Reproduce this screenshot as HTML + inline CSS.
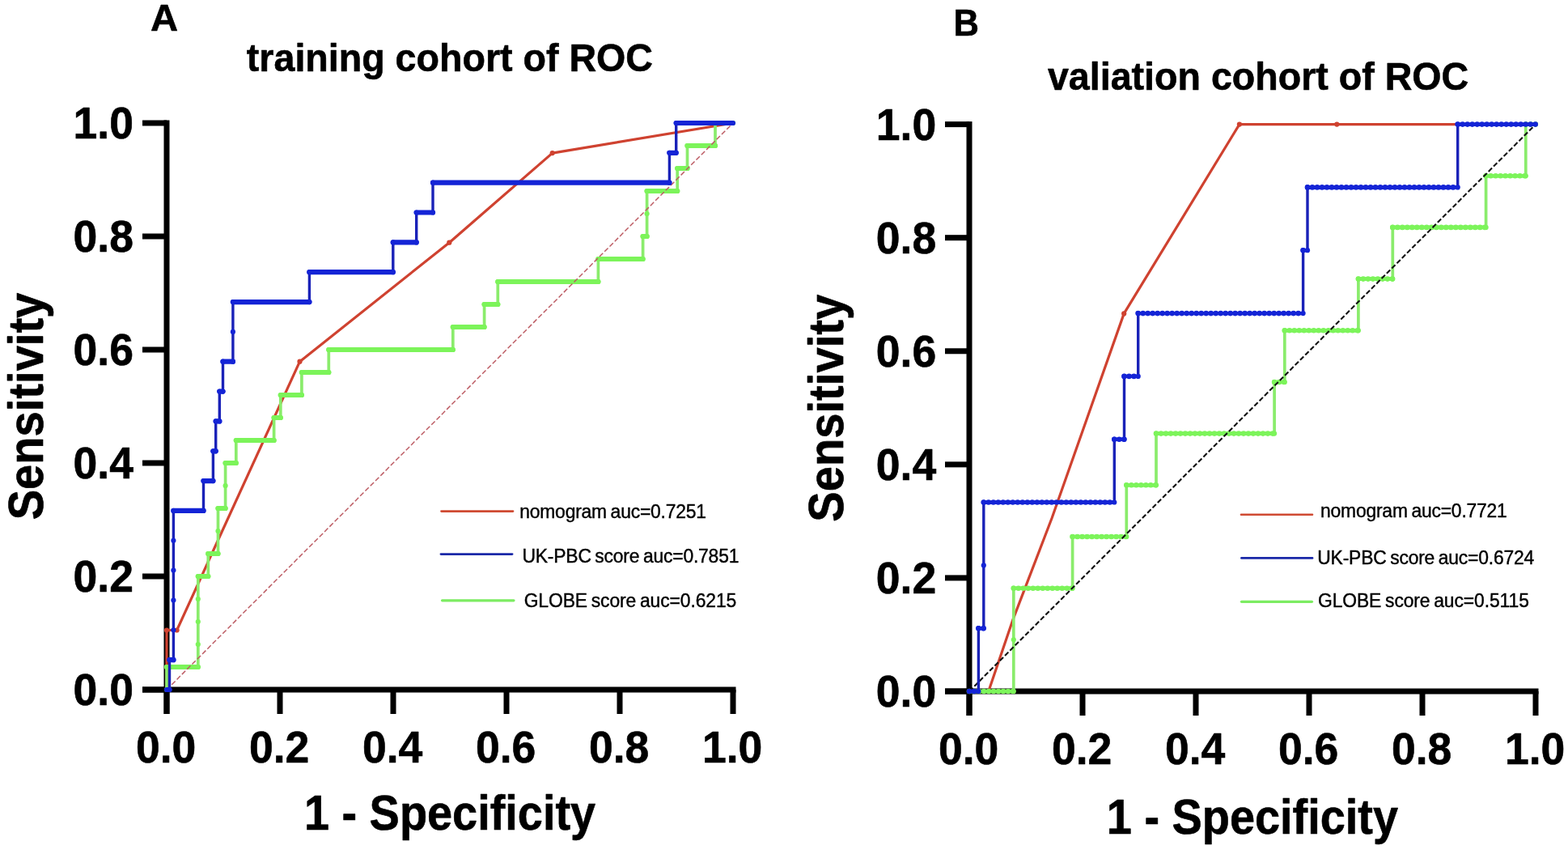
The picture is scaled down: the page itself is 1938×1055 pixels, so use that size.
<!DOCTYPE html>
<html lang="en">
<head>
<meta charset="utf-8">
<title>ROC curves: training and validation cohorts</title>
<style>
html,body{margin:0;padding:0;background:#fff;}
body{width:1938px;height:1055px;overflow:hidden;font-family:"Liberation Sans",Arial,Helvetica,sans-serif;}
svg{display:block;position:absolute;left:0;top:0;}
</style>
</head>
<body>
<svg role="img" aria-label="ROC curves for the training and validation cohorts" width="1938" height="1055" viewBox="0 0 1938 1055" font-family="'Liberation Sans', Arial, Helvetica, sans-serif" fill="#000">
<rect width="1938" height="1055" fill="#fff"/>
<g id="fig">
<g font-weight="700" stroke="#000" stroke-width="0.6" stroke-linejoin="round">
<text transform="translate(186.0 38.3) scale(1.0 0.965)" font-size="47.3">A</text>
<text transform="translate(1178.4 43.9) scale(1.0 1.05)" font-size="43.5">B</text>
<text transform="translate(555.9 88.4) scale(1.0 1.04)" font-size="46.6" text-anchor="middle">training cohort of ROC</text>
<text transform="translate(1555.1 111.1) scale(1.0 1.04)" font-size="46.6" text-anchor="middle">valiation cohort of ROC</text>
<text transform="translate(556.0 1025.3) scale(1.0 1.08)" font-size="55.9" text-anchor="middle">1 - Specificity</text>
<text transform="translate(1547.9 1029.8) scale(1.0 1.08)" font-size="55.9" text-anchor="middle">1 - Specificity</text>
<text transform="translate(52.9 502.0) rotate(-90) scale(1.0 1.1)" font-size="56.1" text-anchor="middle">Sensitivity</text>
<text transform="translate(1042.0 504.3) rotate(-90) scale(1.0 1.1)" font-size="56.2" text-anchor="middle">Sensitivity</text>
</g>
<g fill="#000"><rect x="202.5" y="148.5" width="7" height="733.5"/><rect x="176" y="848.5" width="733.5" height="7"/><rect x="176" y="848.5" width="30" height="7"/><rect x="202.5" y="852" width="7" height="30"/><rect x="176" y="708.5" width="30" height="7"/><rect x="342.5" y="852" width="7" height="30"/><rect x="176" y="568.5" width="30" height="7"/><rect x="482.5" y="852" width="7" height="30"/><rect x="176" y="428.5" width="30" height="7"/><rect x="622.5" y="852" width="7" height="30"/><rect x="176" y="288.5" width="30" height="7"/><rect x="762.5" y="852" width="7" height="30"/><rect x="176" y="148.5" width="30" height="7"/><rect x="902.5" y="852" width="7" height="30"/></g>
<g fill="#000"><rect x="1194.5" y="150.1" width="7" height="733.9"/><rect x="1168" y="850.5" width="733.5" height="7"/><rect x="1168" y="850.5" width="30" height="7"/><rect x="1194.5" y="854" width="7" height="30"/><rect x="1168" y="710.42" width="30" height="7"/><rect x="1334.5" y="854" width="7" height="30"/><rect x="1168" y="570.34" width="30" height="7"/><rect x="1474.5" y="854" width="7" height="30"/><rect x="1168" y="430.26" width="30" height="7"/><rect x="1614.5" y="854" width="7" height="30"/><rect x="1168" y="290.18" width="30" height="7"/><rect x="1754.5" y="854" width="7" height="30"/><rect x="1168" y="150.1" width="30" height="7"/><rect x="1894.5" y="854" width="7" height="30"/></g>
<g font-weight="700" stroke="#000" stroke-width="0.6" stroke-linejoin="round"><text transform="translate(164.9 871.2) scale(1.0 1.05)" font-size="53.5" text-anchor="end">0.0</text><text transform="translate(205.1 942.3) scale(1.0 1.05)" font-size="53.5" text-anchor="middle">0.0</text><text transform="translate(164.9 731.2) scale(1.0 1.05)" font-size="53.5" text-anchor="end">0.2</text><text transform="translate(345.1 942.3) scale(1.0 1.05)" font-size="53.5" text-anchor="middle">0.2</text><text transform="translate(164.9 591.2) scale(1.0 1.05)" font-size="53.5" text-anchor="end">0.4</text><text transform="translate(485.1 942.3) scale(1.0 1.05)" font-size="53.5" text-anchor="middle">0.4</text><text transform="translate(164.9 451.2) scale(1.0 1.05)" font-size="53.5" text-anchor="end">0.6</text><text transform="translate(625.1 942.3) scale(1.0 1.05)" font-size="53.5" text-anchor="middle">0.6</text><text transform="translate(164.9 311.2) scale(1.0 1.05)" font-size="53.5" text-anchor="end">0.8</text><text transform="translate(765.1 942.3) scale(1.0 1.05)" font-size="53.5" text-anchor="middle">0.8</text><text transform="translate(164.9 171.2) scale(1.0 1.05)" font-size="53.5" text-anchor="end">1.0</text><text transform="translate(905.1 942.3) scale(1.0 1.05)" font-size="53.5" text-anchor="middle">1.0</text></g>
<g font-weight="700" stroke="#000" stroke-width="0.6" stroke-linejoin="round"><text transform="translate(1157.2 873.2) scale(1.0 1.05)" font-size="53.5" text-anchor="end">0.0</text><text transform="translate(1197.1 943.6) scale(1.0 1.05)" font-size="53.5" text-anchor="middle">0.0</text><text transform="translate(1157.2 733.12) scale(1.0 1.05)" font-size="53.5" text-anchor="end">0.2</text><text transform="translate(1337.1 943.6) scale(1.0 1.05)" font-size="53.5" text-anchor="middle">0.2</text><text transform="translate(1157.2 593.04) scale(1.0 1.05)" font-size="53.5" text-anchor="end">0.4</text><text transform="translate(1477.1 943.6) scale(1.0 1.05)" font-size="53.5" text-anchor="middle">0.4</text><text transform="translate(1157.2 452.96) scale(1.0 1.05)" font-size="53.5" text-anchor="end">0.6</text><text transform="translate(1617.1 943.6) scale(1.0 1.05)" font-size="53.5" text-anchor="middle">0.6</text><text transform="translate(1157.2 312.88) scale(1.0 1.05)" font-size="53.5" text-anchor="end">0.8</text><text transform="translate(1757.1 943.6) scale(1.0 1.05)" font-size="53.5" text-anchor="middle">0.8</text><text transform="translate(1157.2 172.8) scale(1.0 1.05)" font-size="53.5" text-anchor="end">1.0</text><text transform="translate(1897.1 943.6) scale(1.0 1.05)" font-size="53.5" text-anchor="middle">1.0</text></g>
<path d="M206 852 L206 778.5 L218.6 778.5 L370.5 446.7 L555.3 299.7 L682.7 189.1 L906 152" fill="none" stroke="#cf4230" stroke-width="3.2" stroke-linejoin="round" stroke-linecap="round"/><g fill="#cf4230"><circle cx="206" cy="778.5" r="3.1"/><circle cx="218.6" cy="778.5" r="3.1"/><circle cx="370.5" cy="446.7" r="3.1"/><circle cx="555.3" cy="299.7" r="3.1"/><circle cx="682.7" cy="189.1" r="3.1"/></g><path d="M206 852 L206.0 852.0 L206.0 824.0 L244.8 824.0 L244.8 712.0 L257.3 712.0 L257.3 684.0 L269.5 684.0 L269.5 628.0 L278.6 628.0 L278.6 572.0 L291.8 572.0 L291.8 544.0 L338.6 544.0 L338.6 516.0 L346.8 516.0 L346.8 488.0 L372.9 488.0 L372.9 460.0 L406.3 460.0 L406.3 432.0 L559.8 432.0 L559.8 404.0 L598.6 404.0 L598.6 376.0 L615.3 376.0 L615.3 348.0 L739.4 348.0 L739.4 320.0 L794.6 320.0 L794.6 292.0 L799.6 292.0 L799.6 236.0 L837.2 236.0 L837.2 208.0 L849.5 208.0 L849.5 180.0 L884.0 180.0 L884.0 152.0 L906.0 152.0" fill="none" stroke="#8aec6c" stroke-width="3.7" stroke-linejoin="round" stroke-linecap="round"/><path d="M206.0 824.0H244.8 M244.8 712.0H257.3 M257.3 684.0H269.5 M269.5 628.0H278.6 M278.6 572.0H291.8 M291.8 544.0H338.6 M338.6 516.0H346.8 M346.8 488.0H372.9 M372.9 460.0H406.3 M406.3 432.0H559.8 M559.8 404.0H598.6 M598.6 376.0H615.3 M615.3 348.0H739.4 M739.4 320.0H794.6 M794.6 292.0H799.6 M799.6 236.0H837.2 M837.2 208.0H849.5 M849.5 180.0H884.0 M884.0 152.0H906.0" fill="none" stroke="#7cf45a" stroke-width="6.2" stroke-linecap="round"/><g fill="#7cf45a"><circle cx="206.0" cy="852.0" r="3.1"/><circle cx="206.0" cy="824.0" r="3.1"/><circle cx="244.8" cy="824.0" r="3.1"/><circle cx="244.8" cy="796.0" r="3.1"/><circle cx="244.8" cy="768.0" r="3.1"/><circle cx="244.8" cy="740.0" r="3.1"/><circle cx="244.8" cy="712.0" r="3.1"/><circle cx="257.3" cy="712.0" r="3.1"/><circle cx="257.3" cy="684.0" r="3.1"/><circle cx="269.5" cy="684.0" r="3.1"/><circle cx="269.5" cy="656.0" r="3.1"/><circle cx="269.5" cy="628.0" r="3.1"/><circle cx="278.6" cy="628.0" r="3.1"/><circle cx="278.6" cy="600.0" r="3.1"/><circle cx="278.6" cy="572.0" r="3.1"/><circle cx="291.8" cy="572.0" r="3.1"/><circle cx="291.8" cy="544.0" r="3.1"/><circle cx="338.6" cy="544.0" r="3.1"/><circle cx="338.6" cy="516.0" r="3.1"/><circle cx="346.8" cy="516.0" r="3.1"/><circle cx="346.8" cy="488.0" r="3.1"/><circle cx="372.9" cy="488.0" r="3.1"/><circle cx="372.9" cy="460.0" r="3.1"/><circle cx="406.3" cy="460.0" r="3.1"/><circle cx="406.3" cy="432.0" r="3.1"/><circle cx="559.8" cy="432.0" r="3.1"/><circle cx="559.8" cy="404.0" r="3.1"/><circle cx="598.6" cy="404.0" r="3.1"/><circle cx="598.6" cy="376.0" r="3.1"/><circle cx="615.3" cy="376.0" r="3.1"/><circle cx="615.3" cy="348.0" r="3.1"/><circle cx="739.4" cy="348.0" r="3.1"/><circle cx="739.4" cy="320.0" r="3.1"/><circle cx="794.6" cy="320.0" r="3.1"/><circle cx="794.6" cy="292.0" r="3.1"/><circle cx="799.6" cy="292.0" r="3.1"/><circle cx="799.6" cy="264.0" r="3.1"/><circle cx="799.6" cy="236.0" r="3.1"/><circle cx="837.2" cy="236.0" r="3.1"/><circle cx="837.2" cy="208.0" r="3.1"/><circle cx="849.5" cy="208.0" r="3.1"/><circle cx="849.5" cy="180.0" r="3.1"/><circle cx="884.0" cy="180.0" r="3.1"/><circle cx="884.0" cy="152.0" r="3.1"/></g><line x1="206" y1="852" x2="906" y2="152" stroke="#bc5a62" stroke-width="1.45" stroke-dasharray="6.1 2.8"/><path d="M206 852 L209.5 852.0 L209.5 815.2 L214.4 815.2 L214.4 630.9 L251.5 630.9 L251.5 594.1 L263.4 594.1 L263.4 557.3 L266.7 557.3 L266.7 520.4 L271.3 520.4 L271.3 483.6 L275.5 483.6 L275.5 446.7 L287.9 446.7 L287.9 373.1 L382.4 373.1 L382.4 336.2 L485.8 336.2 L485.8 299.4 L514.7 299.4 L514.7 262.5 L535.0 262.5 L535.0 225.7 L827.4 225.7 L827.4 188.8 L835.7 188.8 L835.7 152.0 L906.0 152.0" fill="none" stroke="#1a22b8" stroke-width="3.4" stroke-linejoin="round" stroke-linecap="round"/><path d="M206 852.0H209.5 M209.5 815.2H214.4 M214.4 630.9H251.5 M251.5 594.1H263.4 M263.4 557.3H266.7 M266.7 520.4H271.3 M271.3 483.6H275.5 M275.5 446.7H287.9 M287.9 373.1H382.4 M382.4 336.2H485.8 M485.8 299.4H514.7 M514.7 262.5H535.0 M535.0 225.7H827.4 M827.4 188.8H835.7 M835.7 152.0H906.0" fill="none" stroke="#1424d6" stroke-width="6.2" stroke-linecap="round"/><g fill="#1424d6"><circle cx="209.5" cy="852.0" r="3.1"/><circle cx="209.5" cy="815.2" r="3.1"/><circle cx="214.4" cy="815.2" r="3.1"/><circle cx="214.4" cy="778.3" r="3.1"/><circle cx="214.4" cy="741.5" r="3.1"/><circle cx="214.4" cy="704.6" r="3.1"/><circle cx="214.4" cy="667.8" r="3.1"/><circle cx="214.4" cy="630.9" r="3.1"/><circle cx="251.5" cy="630.9" r="3.1"/><circle cx="251.5" cy="594.1" r="3.1"/><circle cx="263.4" cy="594.1" r="3.1"/><circle cx="263.4" cy="557.3" r="3.1"/><circle cx="266.7" cy="557.3" r="3.1"/><circle cx="266.7" cy="520.4" r="3.1"/><circle cx="271.3" cy="520.4" r="3.1"/><circle cx="271.3" cy="483.6" r="3.1"/><circle cx="275.5" cy="483.6" r="3.1"/><circle cx="275.5" cy="446.7" r="3.1"/><circle cx="287.9" cy="446.7" r="3.1"/><circle cx="287.9" cy="409.9" r="3.1"/><circle cx="287.9" cy="373.1" r="3.1"/><circle cx="382.4" cy="373.1" r="3.1"/><circle cx="382.4" cy="336.2" r="3.1"/><circle cx="485.8" cy="336.2" r="3.1"/><circle cx="485.8" cy="299.4" r="3.1"/><circle cx="514.7" cy="299.4" r="3.1"/><circle cx="514.7" cy="262.5" r="3.1"/><circle cx="535.0" cy="262.5" r="3.1"/><circle cx="535.0" cy="225.7" r="3.1"/><circle cx="827.4" cy="225.7" r="3.1"/><circle cx="827.4" cy="188.8" r="3.1"/><circle cx="835.7" cy="188.8" r="3.1"/><circle cx="835.7" cy="152.0" r="3.1"/></g>
<path d="M1198 854.0 L1221.8 854.0 L1252.1 765.1 L1300.1 640.0 L1389.2 387.4 L1531.9 153.6 L1652.3 153.6 L1898 153.6" fill="none" stroke="#cf4230" stroke-width="3.2" stroke-linejoin="round" stroke-linecap="round"/><g fill="#cf4230"><circle cx="1389.2" cy="387.4" r="3.1"/><circle cx="1531.9" cy="153.6" r="3.1"/><circle cx="1652.3" cy="153.6" r="3.1"/></g><path d="M1198 854.0 L1252.8 854.0 L1252.8 726.7 L1325.6 726.7 L1325.6 663.0 L1392.3 663.0 L1392.3 599.3 L1429.0 599.3 L1429.0 535.6 L1575.1 535.6 L1575.1 472.0 L1587.8 472.0 L1587.8 408.3 L1678.9 408.3 L1678.9 344.6 L1721.3 344.6 L1721.3 280.9 L1836.6 280.9 L1836.6 217.3 L1885.8 217.3 L1885.8 153.6 L1898.0 153.6" fill="none" stroke="#8aec6c" stroke-width="3.7" stroke-linejoin="round" stroke-linecap="round"/><path d="M1198 854.0H1252.8 M1252.8 726.7H1325.6 M1325.6 663.0H1392.3 M1392.3 599.3H1429.0 M1429.0 535.6H1575.1 M1575.1 472.0H1587.8 M1587.8 408.3H1678.9 M1678.9 344.6H1721.3 M1721.3 280.9H1836.6 M1836.6 217.3H1885.8 M1885.8 153.6H1898.0" fill="none" stroke="#7cf45a" stroke-width="4.6" stroke-linecap="round"/><path d="M1198 854.0H1252.8 M1252.8 726.7H1325.6 M1325.6 663.0H1392.3 M1392.3 599.3H1429.0 M1429.0 535.6H1575.1 M1575.1 472.0H1587.8 M1587.8 408.3H1678.9 M1678.9 344.6H1721.3 M1721.3 280.9H1836.6 M1836.6 217.3H1885.8 M1885.8 153.6H1898.0" fill="none" stroke="#7cf45a" stroke-width="6.6" stroke-linecap="round" stroke-dasharray="0 6"/><g fill="#7cf45a"><circle cx="1252.8" cy="854.0" r="3.1"/><circle cx="1252.8" cy="790.3" r="3.1"/><circle cx="1252.8" cy="726.7" r="3.1"/><circle cx="1325.6" cy="726.7" r="3.1"/><circle cx="1325.6" cy="663.0" r="3.1"/><circle cx="1392.3" cy="663.0" r="3.1"/><circle cx="1392.3" cy="599.3" r="3.1"/><circle cx="1429.0" cy="599.3" r="3.1"/><circle cx="1429.0" cy="535.6" r="3.1"/><circle cx="1575.1" cy="535.6" r="3.1"/><circle cx="1575.1" cy="472.0" r="3.1"/><circle cx="1587.8" cy="472.0" r="3.1"/><circle cx="1587.8" cy="408.3" r="3.1"/><circle cx="1678.9" cy="408.3" r="3.1"/><circle cx="1678.9" cy="344.6" r="3.1"/><circle cx="1721.3" cy="344.6" r="3.1"/><circle cx="1721.3" cy="280.9" r="3.1"/><circle cx="1836.6" cy="280.9" r="3.1"/><circle cx="1836.6" cy="217.3" r="3.1"/><circle cx="1885.8" cy="217.3" r="3.1"/><circle cx="1885.8" cy="153.6" r="3.1"/></g><line x1="1198" y1="854.0" x2="1898" y2="153.6" stroke="#111111" stroke-width="2.1" stroke-dasharray="6.1 2.8"/><path d="M1198 854.0 L1209.4 854.0 L1209.4 776.2 L1215.8 776.2 L1215.8 620.5 L1377.3 620.5 L1377.3 542.7 L1389.5 542.7 L1389.5 464.9 L1406.7 464.9 L1406.7 387.1 L1610.6 387.1 L1610.6 309.2 L1616.0 309.2 L1616.0 231.4 L1801.7 231.4 L1801.7 153.6 L1898.0 153.6" fill="none" stroke="#1a22b8" stroke-width="3.4" stroke-linejoin="round" stroke-linecap="round"/><path d="M1198 854.0H1209.4 M1209.4 776.2H1215.8 M1215.8 620.5H1377.3 M1377.3 542.7H1389.5 M1389.5 464.9H1406.7 M1406.7 387.1H1610.6 M1610.6 309.2H1616.0 M1616.0 231.4H1801.7 M1801.7 153.6H1898.0" fill="none" stroke="#1424d6" stroke-width="4.4" stroke-linecap="round"/><path d="M1198 854.0H1209.4 M1209.4 776.2H1215.8 M1215.8 620.5H1377.3 M1377.3 542.7H1389.5 M1389.5 464.9H1406.7 M1406.7 387.1H1610.6 M1610.6 309.2H1616.0 M1616.0 231.4H1801.7 M1801.7 153.6H1898.0" fill="none" stroke="#1424d6" stroke-width="6.6" stroke-linecap="round" stroke-dasharray="0 6"/><g fill="#1424d6"><circle cx="1209.4" cy="854.0" r="3.1"/><circle cx="1209.4" cy="776.2" r="3.1"/><circle cx="1215.8" cy="776.2" r="3.1"/><circle cx="1215.8" cy="698.4" r="3.1"/><circle cx="1215.8" cy="620.5" r="3.1"/><circle cx="1377.3" cy="620.5" r="3.1"/><circle cx="1377.3" cy="542.7" r="3.1"/><circle cx="1389.5" cy="542.7" r="3.1"/><circle cx="1389.5" cy="464.9" r="3.1"/><circle cx="1406.7" cy="464.9" r="3.1"/><circle cx="1406.7" cy="387.1" r="3.1"/><circle cx="1610.6" cy="387.1" r="3.1"/><circle cx="1610.6" cy="309.2" r="3.1"/><circle cx="1616.0" cy="309.2" r="3.1"/><circle cx="1616.0" cy="231.4" r="3.1"/><circle cx="1801.7" cy="231.4" r="3.1"/><circle cx="1801.7" cy="153.6" r="3.1"/></g>
<line x1="545.5" y1="631.6" x2="634" y2="631.6" stroke="#cf4a32" stroke-width="2.6" stroke-linecap="round"/><text transform="translate(642.2 640.2) scale(1.0 1.055)" font-size="22.9" letter-spacing="-0.2" word-spacing="-1.5" stroke="#000" stroke-width="0.4">nomogram auc=0.7251</text><line x1="545" y1="684.6" x2="633" y2="684.6" stroke="#1a28a8" stroke-width="2.8" stroke-linecap="round"/><text transform="translate(645.47 695.3) scale(1.0 1.055)" font-size="22.9" letter-spacing="-0.2" word-spacing="-1.5" stroke="#000" stroke-width="0.4">UK-PBC score auc=0.7851</text><line x1="546.5" y1="741.8" x2="635" y2="741.8" stroke="#7cec62" stroke-width="3.2" stroke-linecap="round"/><text transform="translate(647.65 750.0) scale(1.0 1.055)" font-size="22.9" letter-spacing="-0.1" word-spacing="-1.5" stroke="#000" stroke-width="0.4">GLOBE score auc=0.6215</text>
<line x1="1534" y1="635.7" x2="1622" y2="635.7" stroke="#cf4a32" stroke-width="2.6" stroke-linecap="round"/><text transform="translate(1632.0 639.2) scale(1.0 1.055)" font-size="22.9" letter-spacing="-0.2" word-spacing="-1.5" stroke="#000" stroke-width="0.4">nomogram auc=0.7721</text><line x1="1534.5" y1="689.4" x2="1622" y2="689.4" stroke="#1a28a8" stroke-width="2.8" stroke-linecap="round"/><text transform="translate(1628.27 697.0) scale(1.0 1.055)" font-size="22.9" letter-spacing="-0.2" word-spacing="-1.5" stroke="#000" stroke-width="0.4">UK-PBC score auc=0.6724</text><line x1="1534.5" y1="743.3" x2="1621.5" y2="743.3" stroke="#7cec62" stroke-width="3.2" stroke-linecap="round"/><text transform="translate(1628.95 750.0) scale(1.0 1.055)" font-size="22.9" letter-spacing="-0.1" word-spacing="-1.5" stroke="#000" stroke-width="0.4">GLOBE score auc=0.5115</text>
</g>
</svg>
</body>
</html>
